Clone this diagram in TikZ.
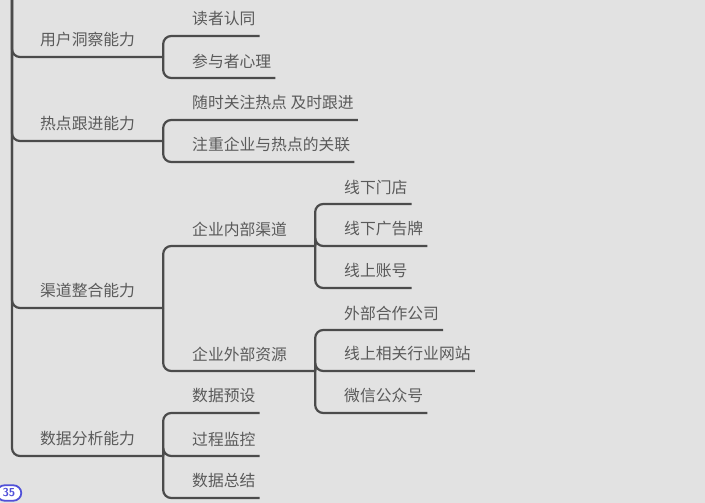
\documentclass[tikz,border=0pt]{standalone}
\usepackage{fontspec}
\usepackage{tikz}
\usepackage{xcolor}
\usetikzlibrary{calc,positioning}
\newfontfamily\cjk{Noto Sans CJK SC}
\definecolor{mapBg}{HTML}{E2E2E2}
\definecolor{mapLine}{HTML}{4B4B4B}
\definecolor{mapText}{HTML}{5A5A5A}
\definecolor{mapBlue}{HTML}{5050D8}
\tikzset{
  topicText/.style={anchor=south west, inner xsep=0pt, inner ysep=9.5pt, text=mapText, font=\cjk\fontsize{15.8}{16}\selectfont},
  branchLine/.style={draw=mapLine, line width=2.2pt, rounded corners=8pt},
  pageBadge/.style={draw=mapBlue, fill=white, line width=1.8pt, rounded corners=8pt, text=mapBlue, font=\sffamily\bfseries\fontsize{11.5}{12}\selectfont, inner xsep=6pt, inner ysep=3.5pt}
}
\begin{document}
\begin{tikzpicture}[x=1pt,y=-1pt]
  \fill[mapBg] (0,0) rectangle (705,503);
  \useasboundingbox (0,0) rectangle (705,503);
  \coordinate (root) at (12,-12);
  % first level
  \node[topicText] (yonghu) at (40,57) {用户洞察能力};
  \node[topicText] (redian) at (40,141) {热点跟进能力};
  \node[topicText] (qudao) at (40,308) {渠道整合能力};
  \node[topicText] (shuju) at (40,456) {数据分析能力};
  \coordinate (bYonghu) at ([xshift=28pt]yonghu.south east);
  \coordinate (bRedian) at ([xshift=28pt]redian.south east);
  \coordinate (bQudao) at ([xshift=28pt]qudao.south east);
  \coordinate (bShuju) at ([xshift=28pt]shuju.south east);
  \draw[branchLine] (root) |- (bYonghu);
  \draw[branchLine] (root) |- (bRedian);
  \draw[branchLine] (root) |- (bQudao);
  \draw[branchLine] (root) |- (bShuju);
  % second level
  \node[topicText] (duzhe) at (192,36) {读者认同};
  \node[topicText] (canyu) at (192,78) {参与者心理};
  \node[topicText] (suishi) at (192,120) {随时关注热点 及时跟进};
  \node[topicText] (zhuzhong) at (192,162) {注重企业与热点的关联};
  \node[topicText] (neibu) at (192,246) {企业内部渠道};
  \node[topicText] (waibu) at (192,371) {企业外部资源};
  \node[topicText] (yushe) at (192,413) {数据预设};
  \node[topicText] (jiankong) at (192,456) {过程监控};
  \node[topicText] (zongjie) at (192,498) {数据总结};
  \coordinate (bNeibu) at ([xshift=28pt]neibu.south east);
  \coordinate (bWaibu) at ([xshift=28pt]waibu.south east);
  \draw[branchLine] (bYonghu) |- ([xshift=4pt]duzhe.south east);
  \draw[branchLine] (bYonghu) |- ([xshift=4pt]canyu.south east);
  \draw[branchLine] (bRedian) |- ([xshift=4pt]suishi.south east);
  \draw[branchLine] (bRedian) |- ([xshift=4pt]zhuzhong.south east);
  \draw[branchLine] (bQudao) |- (bNeibu);
  \draw[branchLine] (bQudao) |- (bWaibu);
  \draw[branchLine] (bShuju) |- ([xshift=4pt]yushe.south east);
  \draw[branchLine] (bShuju) |- ([xshift=4pt]jiankong.south east);
  \draw[branchLine] (bShuju) |- ([xshift=4pt]zongjie.south east);
  % third level
  \node[topicText] (mendian) at (344,204) {线下门店};
  \node[topicText] (guanggao) at (344,246) {线下广告牌};
  \node[topicText] (zhanghao) at (344,288) {线上账号};
  \node[topicText] (hezuo) at (344,330) {外部合作公司};
  \node[topicText] (wangzhan) at (344,371) {线上相关行业网站};
  \node[topicText] (weixin) at (344,413) {微信公众号};
  \draw[branchLine] (bNeibu) |- ([xshift=4pt]mendian.south east);
  \draw[branchLine] (bNeibu) |- ([xshift=4pt]guanggao.south east);
  \draw[branchLine] (bNeibu) |- ([xshift=4pt]zhanghao.south east);
  \draw[branchLine] (bWaibu) |- ([xshift=4pt]hezuo.south east);
  \draw[branchLine] (bWaibu) |- ([xshift=4pt]wangzhan.south east);
  \draw[branchLine] (bWaibu) |- ([xshift=4pt]weixin.south east);
  \node[pageBadge] (pageNo) at (9,493) {35};
\end{tikzpicture}
\end{document}
